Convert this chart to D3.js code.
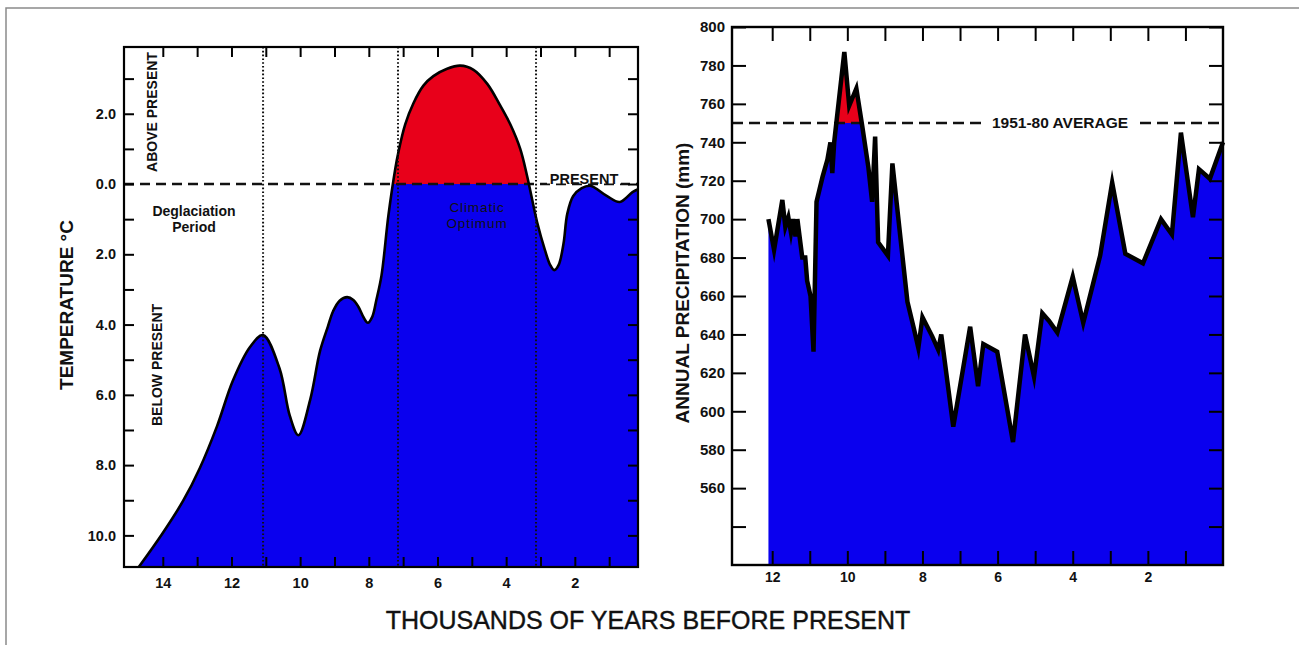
<!DOCTYPE html>
<html>
<head>
<meta charset="utf-8">
<script src="https://cdn.jsdelivr.net/npm/d3@7"></script>
<style>
  html, body { margin: 0; padding: 0; background: #fff; }
  svg { display: block; font-family: "Liberation Sans", Arial, Helvetica, sans-serif; }
</style>
</head>
<body>
<svg id="chart" width="1299" height="645"></svg>
<script>
// ---- Temperature departure from present (°C), thousands of years BP ----
const tempYears  = [14.70, 14.02, 13.41, 12.92, 12.42, 11.96, 11.46, 11.08, 10.6, 10.3, 10.05, 9.71, 9.42, 9.19, 9.04, 8.85, 8.63, 8.45, 8.3, 8.15, 8.03, 7.9, 7.78, 7.63, 7.43, 7.23, 7.14, 6.94, 6.7, 6.41, 6.12, 5.72, 5.34, 4.95, 4.55, 4.17, 3.88, 3.59, 3.39, 3.1, 2.87, 2.72, 2.6, 2.47, 2.33, 2.22, 2.05, 1.8, 1.55, 1.07, 0.69, 0.32, 0.16];
const tempValues = [-10.9, -9.96, -9.02, -8.08, -6.89, -5.6, -4.64, -4.3, -5.25, -6.6, -7.15, -6.15, -4.75, -4.05, -3.62, -3.32, -3.22, -3.3, -3.5, -3.8, -3.95, -3.78, -3.3, -2.6, -0.9, 0.43, 0.9, 1.7, 2.3, 2.8, 3.07, 3.28, 3.37, 3.25, 2.85, 2.23, 1.7, 1.0, 0.23, -1.08, -1.88, -2.3, -2.45, -2.3, -1.7, -0.85, -0.35, -0.12, -0.05, -0.34, -0.51, -0.23, -0.15];
const periodBounds = [11.08, 7.15, 3.13];
const tempTicks = [3, 2, 1, 0, -1, -2, -3, -4, -5, -6, -7, -8, -9, -10];
const tempTickLabels = { "2": "2.0", "0": "0.0", "-2": "2.0", "-4": "4.0", "-6": "6.0", "-8": "8.0", "-10": "10.0" };
const tempYearTicks = [14, 13, 12, 11, 10, 9, 8, 7, 6, 5, 4, 3, 2, 1];
const tempYearLabels = [14, 12, 10, 8, 6, 4, 2];

// ---- Annual precipitation (mm), thousands of years BP ----
const precipYears  = [12.1, 11.95, 11.73, 11.65, 11.57, 11.5, 11.44, 11.38, 11.33, 11.2, 11.12, 11.07, 10.98, 10.9, 10.82, 10.66, 10.53, 10.45, 10.4, 10.35, 10.08, 9.95, 9.76, 9.6, 9.44, 9.34, 9.26, 9.18, 8.92, 8.8, 8.59, 8.4, 8.24, 8.11, 8.0, 7.74, 7.58, 7.5, 7.18, 6.73, 6.52, 6.38, 6.01, 5.59, 5.27, 5.03, 4.81, 4.63, 4.41, 4.0, 3.72, 3.27, 2.95, 2.6, 2.13, 1.65, 1.36, 1.12, 0.8, 0.64, 0.35, 0.0];
const precipValues = [700, 684, 710, 696, 701, 693, 700, 691, 700, 680, 680, 668, 660, 631, 709, 722, 731, 740, 724, 740, 787, 759, 768, 748, 727, 709, 743, 688, 681, 729, 691, 657, 644, 633, 649, 639, 632, 640, 592, 644, 613, 635, 631, 584, 640, 618, 651, 647, 641, 670, 646, 681, 719, 682, 677, 700, 692, 745, 701, 726, 721, 740];
const precipAverage = 750;
const precipTicks = [540, 560, 580, 600, 620, 640, 660, 680, 700, 720, 740, 760, 780, 800];
const precipTickLabels = [560, 580, 600, 620, 640, 660, 680, 700, 720, 740, 760, 780, 800];
const precipYearTicks = [12, 11, 10, 9, 8, 7, 6, 5, 4, 3, 2, 1];
const precipYearLabels = [12, 10, 8, 6, 4, 2];

const BLUE = "#0a00ee";
const RED = "#e8001a";

const svg = d3.select("#chart");

// outer border of the figure
svg.append("path")
  .attr("d", "M6,650 L6,8 L1305,8")
  .attr("fill", "none").attr("stroke", "#8a8a8a").attr("stroke-width", 1.5);

const defs = svg.append("defs");

// ================= Temperature panel =================
const L = { x0: 124, x1: 638, y0: 47, y1: 567 };
const xT = d3.scaleLinear().domain([15.13, 0.16]).range([L.x0, L.x1]);
const yT = d3.scaleLinear().domain([3.9, -10.9]).range([L.y0, L.y1]);
const tempData = tempYears.map((y, i) => ({ year: y, v: tempValues[i] }));

defs.append("clipPath").attr("id", "tBelow").append("rect")
  .attr("x", L.x0).attr("y", yT(0)).attr("width", L.x1 - L.x0).attr("height", L.y1 - yT(0));
defs.append("clipPath").attr("id", "tAbove").append("rect")
  .attr("x", L.x0).attr("y", L.y0).attr("width", L.x1 - L.x0).attr("height", yT(0) - L.y0);
defs.append("clipPath").attr("id", "tFrame").append("rect")
  .attr("x", L.x0).attr("y", L.y0).attr("width", L.x1 - L.x0).attr("height", L.y1 - L.y0);

const smooth = d3.curveCatmullRom.alpha(0.5);
const tArea = d3.area().curve(smooth)
  .x(d => xT(d.year)).y0(L.y1).y1(d => yT(d.v));
const tLine = d3.line().curve(smooth)
  .x(d => xT(d.year)).y(d => yT(d.v));

const gT = svg.append("g");
gT.append("path").datum(tempData).attr("d", tArea).attr("fill", BLUE).attr("clip-path", "url(#tBelow)");
gT.append("path").datum(tempData).attr("d", tArea).attr("fill", RED).attr("clip-path", "url(#tAbove)");

// present-day reference line
gT.append("line")
  .attr("x1", L.x0).attr("x2", L.x1).attr("y1", yT(0)).attr("y2", yT(0))
  .attr("stroke", "#111").attr("stroke-width", 2.5).attr("stroke-dasharray", "10,6");
gT.append("rect").attr("x", 547).attr("y", 170).attr("width", 74).attr("height", 13.5).attr("fill", "#fff");
gT.append("text").attr("x", 584).attr("y", 183.5).attr("text-anchor", "middle")
  .attr("font-size", 14.5).attr("font-weight", "bold").attr("fill", "#111").text("PRESENT");

gT.append("path").datum(tempData).attr("d", tLine).attr("clip-path", "url(#tFrame)")
  .attr("fill", "none").attr("stroke", "#000").attr("stroke-width", 2.6);

// period boundaries
gT.selectAll("line.period").data(periodBounds).join("line")
  .attr("class", "period")
  .attr("x1", d => xT(d)).attr("x2", d => xT(d)).attr("y1", L.y0).attr("y2", L.y1)
  .attr("stroke", "#111").attr("stroke-width", 2).attr("stroke-dasharray", "1.6,2.2");

// frame
gT.append("rect").attr("x", L.x0).attr("y", L.y0).attr("width", L.x1 - L.x0).attr("height", L.y1 - L.y0)
  .attr("fill", "none").attr("stroke", "#000").attr("stroke-width", 2.2);

function styleAxis(g, size, weight) {
  g.select(".domain").remove();
  g.selectAll(".tick line").attr("stroke", "#000").attr("stroke-width", 2);
  g.selectAll(".tick text").attr("fill", "#111").attr("font-size", size).attr("font-weight", weight)
    .attr("font-family", "'Liberation Sans', Arial, Helvetica, sans-serif");
}

gT.append("g").attr("transform", `translate(${L.x0},0)`)
  .call(d3.axisLeft(yT).tickValues(tempTicks).tickSize(-10).tickPadding(8)
    .tickFormat(d => tempTickLabels[String(d)] || ""))
  .call(g => styleAxis(g, 14.5, "bold"));
gT.append("g").attr("transform", `translate(${L.x1},0)`)
  .call(d3.axisRight(yT).tickValues(tempTicks).tickSize(-10).tickFormat(""))
  .call(g => styleAxis(g, 14, "bold"));
gT.append("g").attr("transform", `translate(0,${L.y1})`)
  .call(d3.axisBottom(xT).tickValues(tempYearTicks).tickSize(-10).tickPadding(11)
    .tickFormat(d => tempYearLabels.includes(d) ? d : ""))
  .call(g => styleAxis(g, 14.5, "bold"));
gT.append("g").attr("transform", `translate(0,${L.y0})`)
  .call(d3.axisTop(xT).tickValues(tempYearTicks).tickSize(-10).tickFormat(""))
  .call(g => styleAxis(g, 14, "bold"));

// panel annotations
gT.append("text").attr("transform", "translate(157,112) rotate(-90)").attr("text-anchor", "middle")
  .attr("font-size", 14).attr("font-weight", "bold").attr("fill", "#111").text("ABOVE PRESENT");
gT.append("text").attr("transform", "translate(162,365) rotate(-90)").attr("text-anchor", "middle")
  .attr("font-size", 14).attr("font-weight", "bold").attr("fill", "#111").text("BELOW PRESENT");
gT.append("text").attr("x", 194).attr("y", 216).attr("text-anchor", "middle")
  .attr("font-size", 14).attr("font-weight", "bold").attr("fill", "#111").text("Deglaciation");
gT.append("text").attr("x", 194).attr("y", 232).attr("text-anchor", "middle")
  .attr("font-size", 14).attr("font-weight", "bold").attr("fill", "#111").text("Period");
gT.append("text").attr("x", 477).attr("y", 212).attr("text-anchor", "middle")
  .attr("font-size", 13.5).attr("letter-spacing", 0.9).attr("fill", "#111").text("Climatic");
gT.append("text").attr("x", 477).attr("y", 228).attr("text-anchor", "middle")
  .attr("font-size", 13.5).attr("letter-spacing", 0.9).attr("fill", "#111").text("Optimum");
gT.append("text").attr("transform", "translate(73,305) rotate(-90)").attr("text-anchor", "middle")
  .attr("font-size", 19).attr("font-weight", "bold").attr("fill", "#111").text("TEMPERATURE °C");

// ================= Precipitation panel =================
const R = { x0: 732, x1: 1223, y0: 27, y1: 565 };
const xP = d3.scaleLinear().domain([13.07, 0]).range([R.x0, R.x1]);
const yP = d3.scaleLinear().domain([520, 800]).range([R.y1, R.y0]);
const precipData = precipYears.map((y, i) => ({ year: y, v: precipValues[i] }));

defs.append("clipPath").attr("id", "pBelow").append("rect")
  .attr("x", R.x0).attr("y", yP(precipAverage)).attr("width", R.x1 - R.x0).attr("height", R.y1 - yP(precipAverage));
defs.append("clipPath").attr("id", "pAbove").append("rect")
  .attr("x", R.x0).attr("y", R.y0).attr("width", R.x1 - R.x0).attr("height", yP(precipAverage) - R.y0);

const pArea = d3.area().x(d => xP(d.year)).y0(R.y1).y1(d => yP(d.v));
const pLine = d3.line().x(d => xP(d.year)).y(d => yP(d.v));

const gP = svg.append("g");
gP.append("path").datum(precipData).attr("d", pArea).attr("fill", BLUE).attr("clip-path", "url(#pBelow)");
gP.append("path").datum(precipData).attr("d", pArea).attr("fill", RED).attr("clip-path", "url(#pAbove)");

gP.append("line")
  .attr("x1", R.x0).attr("x2", R.x1).attr("y1", yP(precipAverage)).attr("y2", yP(precipAverage))
  .attr("stroke", "#111").attr("stroke-width", 2.5).attr("stroke-dasharray", "11,6");
gP.append("rect").attr("x", 984).attr("y", 114).attr("width", 152).attr("height", 17).attr("fill", "#fff");
gP.append("text").attr("x", 1060).attr("y", 128).attr("text-anchor", "middle")
  .attr("font-size", 15.5).attr("font-weight", "bold").attr("fill", "#111").text("1951-80 AVERAGE");

gP.append("path").datum(precipData).attr("d", pLine)
  .attr("fill", "none").attr("stroke", "#000").attr("stroke-width", 4.5)
  .attr("stroke-linejoin", "miter").attr("stroke-miterlimit", 6);

gP.append("rect").attr("x", R.x0).attr("y", R.y0).attr("width", R.x1 - R.x0).attr("height", R.y1 - R.y0)
  .attr("fill", "none").attr("stroke", "#000").attr("stroke-width", 2.4);

gP.append("g").attr("transform", `translate(${R.x0},0)`)
  .call(d3.axisLeft(yP).tickValues(precipTicks).tickSize(-14).tickPadding(7)
    .tickFormat(d => precipTickLabels.includes(d) ? d : ""))
  .call(g => styleAxis(g, 15, "bold"));
gP.append("g").attr("transform", `translate(${R.x1},0)`)
  .call(d3.axisRight(yP).tickValues(precipTicks).tickSize(-14).tickFormat(""))
  .call(g => styleAxis(g, 14, "bold"));
gP.append("g").attr("transform", `translate(0,${R.y1})`)
  .call(d3.axisBottom(xP).tickValues(precipYearTicks).tickSize(-14).tickPadding(7)
    .tickFormat(d => precipYearLabels.includes(d) ? d : ""))
  .call(g => styleAxis(g, 14, "bold"));
gP.append("g").attr("transform", `translate(0,${R.y0})`)
  .call(d3.axisTop(xP).tickValues(precipYearTicks).tickSize(-14).tickFormat(""))
  .call(g => styleAxis(g, 14, "bold"));

gP.append("text").attr("transform", "translate(689,283) rotate(-90)").attr("text-anchor", "middle")
  .attr("font-size", 19).attr("font-weight", "bold").attr("fill", "#111").text("ANNUAL PRECIPITATION (mm)");

// shared x-axis title
svg.append("text").attr("x", 648).attr("y", 629).attr("text-anchor", "middle")
  .attr("font-size", 25).attr("fill", "#111").attr("stroke", "#111").attr("stroke-width", 0.4)
  .text("THOUSANDS OF YEARS BEFORE PRESENT");
</script>
</body>
</html>
